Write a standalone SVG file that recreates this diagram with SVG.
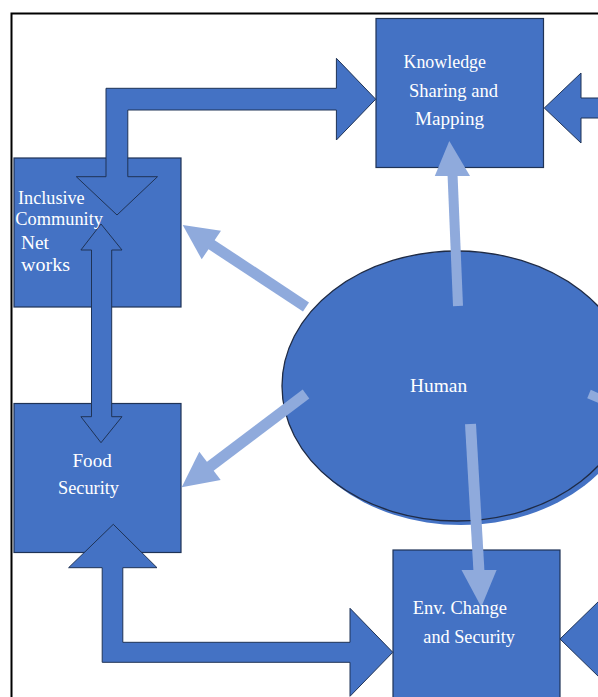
<svg xmlns="http://www.w3.org/2000/svg" width="598" height="697" viewBox="0 0 598 697">
<style>
.box{fill:#4472C4;stroke:#1F3356;stroke-width:1.2}
.darr{fill:#4472C4;stroke:#1F3356;stroke-width:1}
.lshaft{stroke:#8FAADC;fill:none}
.lhead{fill:#8FAADC}
.t{font-family:"Liberation Serif","Times New Roman",serif;font-size:18px;fill:#FFFFFF}
</style>
<rect x="0" y="0" width="598" height="697" fill="#FFFFFF"/>
<rect x="11.5" y="13.5" width="700" height="700" fill="#FFFFFF" stroke="#000000" stroke-width="2"/>

<g id="node-knowledge">
<rect class="box" x="376" y="18.5" width="167.5" height="149"/>
</g>
<g id="node-inclusive">
<rect class="box" x="14" y="158" width="167" height="149"/>
</g>
<g id="node-food">
<rect class="box" x="14" y="403.5" width="167" height="149"/>
</g>
<g id="node-env">
<rect class="box" x="393" y="550" width="167" height="160"/>
</g>
<g id="node-human">
<ellipse cx="461" cy="390" rx="175" ry="135" fill="#4472C4"/>
<ellipse cx="457" cy="386" rx="175" ry="135" fill="#4472C4" stroke="#1F2B45" stroke-width="1.3"/>
</g>

<g id="connectors">
<polygon class="darr" points="117,215 157.5,176.7 127.8,176.7 127.8,110 336.4,110 336.4,140 375.7,99.2 336.4,58.3 336.4,88.3 106,88.3 106,176.7 76.3,176.7"/>
<polygon class="darr" points="101,224 122,250 111.7,250 111.7,416.7 122,416.7 101,442.7 80.9,416.7 91.5,416.7 91.5,250 80.9,250"/>
<polygon class="darr" points="113.3,524.3 157,567.7 122.8,567.7 122.8,642.3 350,642.3 350,608.3 392.8,652.3 350,696.3 350,662.3 102.2,662.3 102.2,567.7 68.6,567.7"/>
<polygon class="darr" points="544.3,108 581,73 581,98 612,98 612,118 581,118 581,143"/>
<polygon class="darr" points="560,639 600,600 600,629 612,629 612,649 600,649 600,678"/>

<line class="lshaft" x1="458" y1="306" x2="452.5" y2="174" stroke-width="10"/>
<polygon class="lhead" points="449.3,141 470,176 434.8,176"/>

<line class="lshaft" x1="306" y1="307" x2="209" y2="243" stroke-width="11"/>
<polygon class="lhead" points="182.7,225 221,230.7 201.7,259.3"/>

<line class="lshaft" x1="306" y1="394" x2="208" y2="468" stroke-width="11"/>
<polygon class="lhead" points="181.7,487.3 199.3,451.7 220.7,480"/>

<line class="lshaft" x1="470.5" y1="424" x2="479" y2="572" stroke-width="11"/>
<polygon class="lhead" points="481.3,607 496.6,570 461.5,570"/>

<line class="lshaft" x1="589" y1="394" x2="615" y2="405" stroke-width="9"/>
</g>

<g id="labels">
<text class="t" x="403.5" y="68" textLength="82.5" lengthAdjust="spacingAndGlyphs">Knowledge</text>
<text class="t" x="409" y="96.5" textLength="89" lengthAdjust="spacingAndGlyphs">Sharing and</text>
<text class="t" x="415" y="125" textLength="69" lengthAdjust="spacingAndGlyphs">Mapping</text>
<text class="t" x="18" y="204" textLength="66.7" lengthAdjust="spacingAndGlyphs">Inclusive</text>
<text class="t" x="15.3" y="225" textLength="87.7" lengthAdjust="spacingAndGlyphs">Community</text>
<text class="t" x="21" y="249" textLength="28" lengthAdjust="spacingAndGlyphs">Net</text>
<text class="t" x="21" y="270.5" textLength="49" lengthAdjust="spacingAndGlyphs">works</text>
<text class="t" x="72.5" y="466.5" textLength="39.2" lengthAdjust="spacingAndGlyphs">Food</text>
<text class="t" x="58" y="494" textLength="61" lengthAdjust="spacingAndGlyphs">Security</text>
<text class="t" x="410" y="391.5" textLength="57.2" lengthAdjust="spacingAndGlyphs">Human</text>
<text class="t" x="412.7" y="614" textLength="94.3" lengthAdjust="spacingAndGlyphs">Env. Change</text>
<text class="t" x="423.3" y="642.5" textLength="91.7" lengthAdjust="spacingAndGlyphs">and Security</text>
</g>
</svg>
